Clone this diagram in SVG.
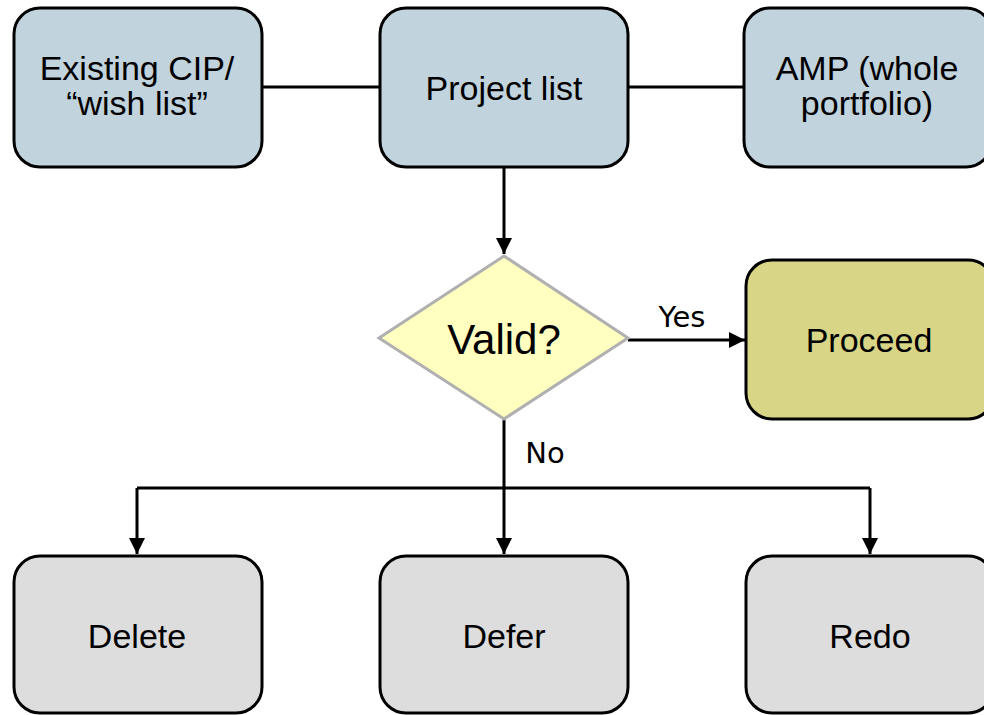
<svg xmlns="http://www.w3.org/2000/svg" width="984" height="715" viewBox="0 0 984 715">
<style>
.box{stroke:#000;stroke-width:3}
.blue{fill:#c1d3dc}
.gray{fill:#dddddd}
.olive{fill:#d8d686}
.t{font-family:"Liberation Sans",Arial,sans-serif;font-size:34px;fill:#000;text-anchor:middle}
.lbl{font-family:"DejaVu Sans",Verdana,sans-serif;font-size:29px;fill:#000;text-anchor:middle}
.ln{stroke:#000;stroke-width:3;fill:none}
</style>
<defs>
<marker id="ah" viewBox="0 0 16 16" refX="16" refY="8" markerWidth="16" markerHeight="16" markerUnits="userSpaceOnUse" orient="auto">
<path d="M0,0 L16,8 L0,16 Z" fill="#000"/>
</marker>
</defs>
<g id="connectors">
<line class="ln" x1="262" y1="87" x2="380" y2="87"/>
<line class="ln" x1="628" y1="87" x2="744" y2="87"/>
<line class="ln" x1="504" y1="167" x2="504" y2="254" marker-end="url(#ah)"/>
<line class="ln" x1="628" y1="340" x2="745" y2="340" marker-end="url(#ah)"/>
<line class="ln" x1="504" y1="419" x2="504" y2="554" marker-end="url(#ah)"/>
<line class="ln" x1="137" y1="488" x2="870" y2="488"/>
<line class="ln" x1="137" y1="488" x2="137" y2="554" marker-end="url(#ah)"/>
<line class="ln" x1="870" y1="488" x2="870" y2="554" marker-end="url(#ah)"/>
<text class="lbl" x="682" y="327">Yes</text>
<text class="lbl" x="545" y="463">No</text>
</g>
<g id="existing">
<rect class="box blue" x="14" y="8" width="248" height="159" rx="26"/>
<text class="t" x="137" y="80">Existing CIP/</text>
<text class="t" x="137" y="115">“wish list”</text>
</g>
<g id="projectlist">
<rect class="box blue" x="380" y="8" width="248" height="159" rx="26"/>
<text class="t" x="504" y="100">Project list</text>
</g>
<g id="amp">
<rect class="box blue" x="744" y="8" width="248" height="159" rx="26"/>
<text class="t" x="867" y="80">AMP (whole</text>
<text class="t" x="867" y="115">portfolio)</text>
</g>
<g id="valid">
<polygon points="504,256 628,338 504,419 379,338" fill="#ffffc0" stroke="#b0b0b0" stroke-width="3"/>
<text class="t" x="504" y="354" style="font-size:42px">Valid?</text>
</g>
<g id="proceed">
<rect class="box olive" x="746" y="260" width="248" height="159" rx="26"/>
<text class="t" x="869" y="352">Proceed</text>
</g>
<g id="delete">
<rect class="box gray" x="14" y="556" width="248" height="157" rx="26"/>
<text class="t" x="137" y="648">Delete</text>
</g>
<g id="defer">
<rect class="box gray" x="380" y="556" width="248" height="157" rx="26"/>
<text class="t" x="504" y="648">Defer</text>
</g>
<g id="redo">
<rect class="box gray" x="746" y="556" width="248" height="157" rx="26"/>
<text class="t" x="870" y="648">Redo</text>
</g>
</svg>
